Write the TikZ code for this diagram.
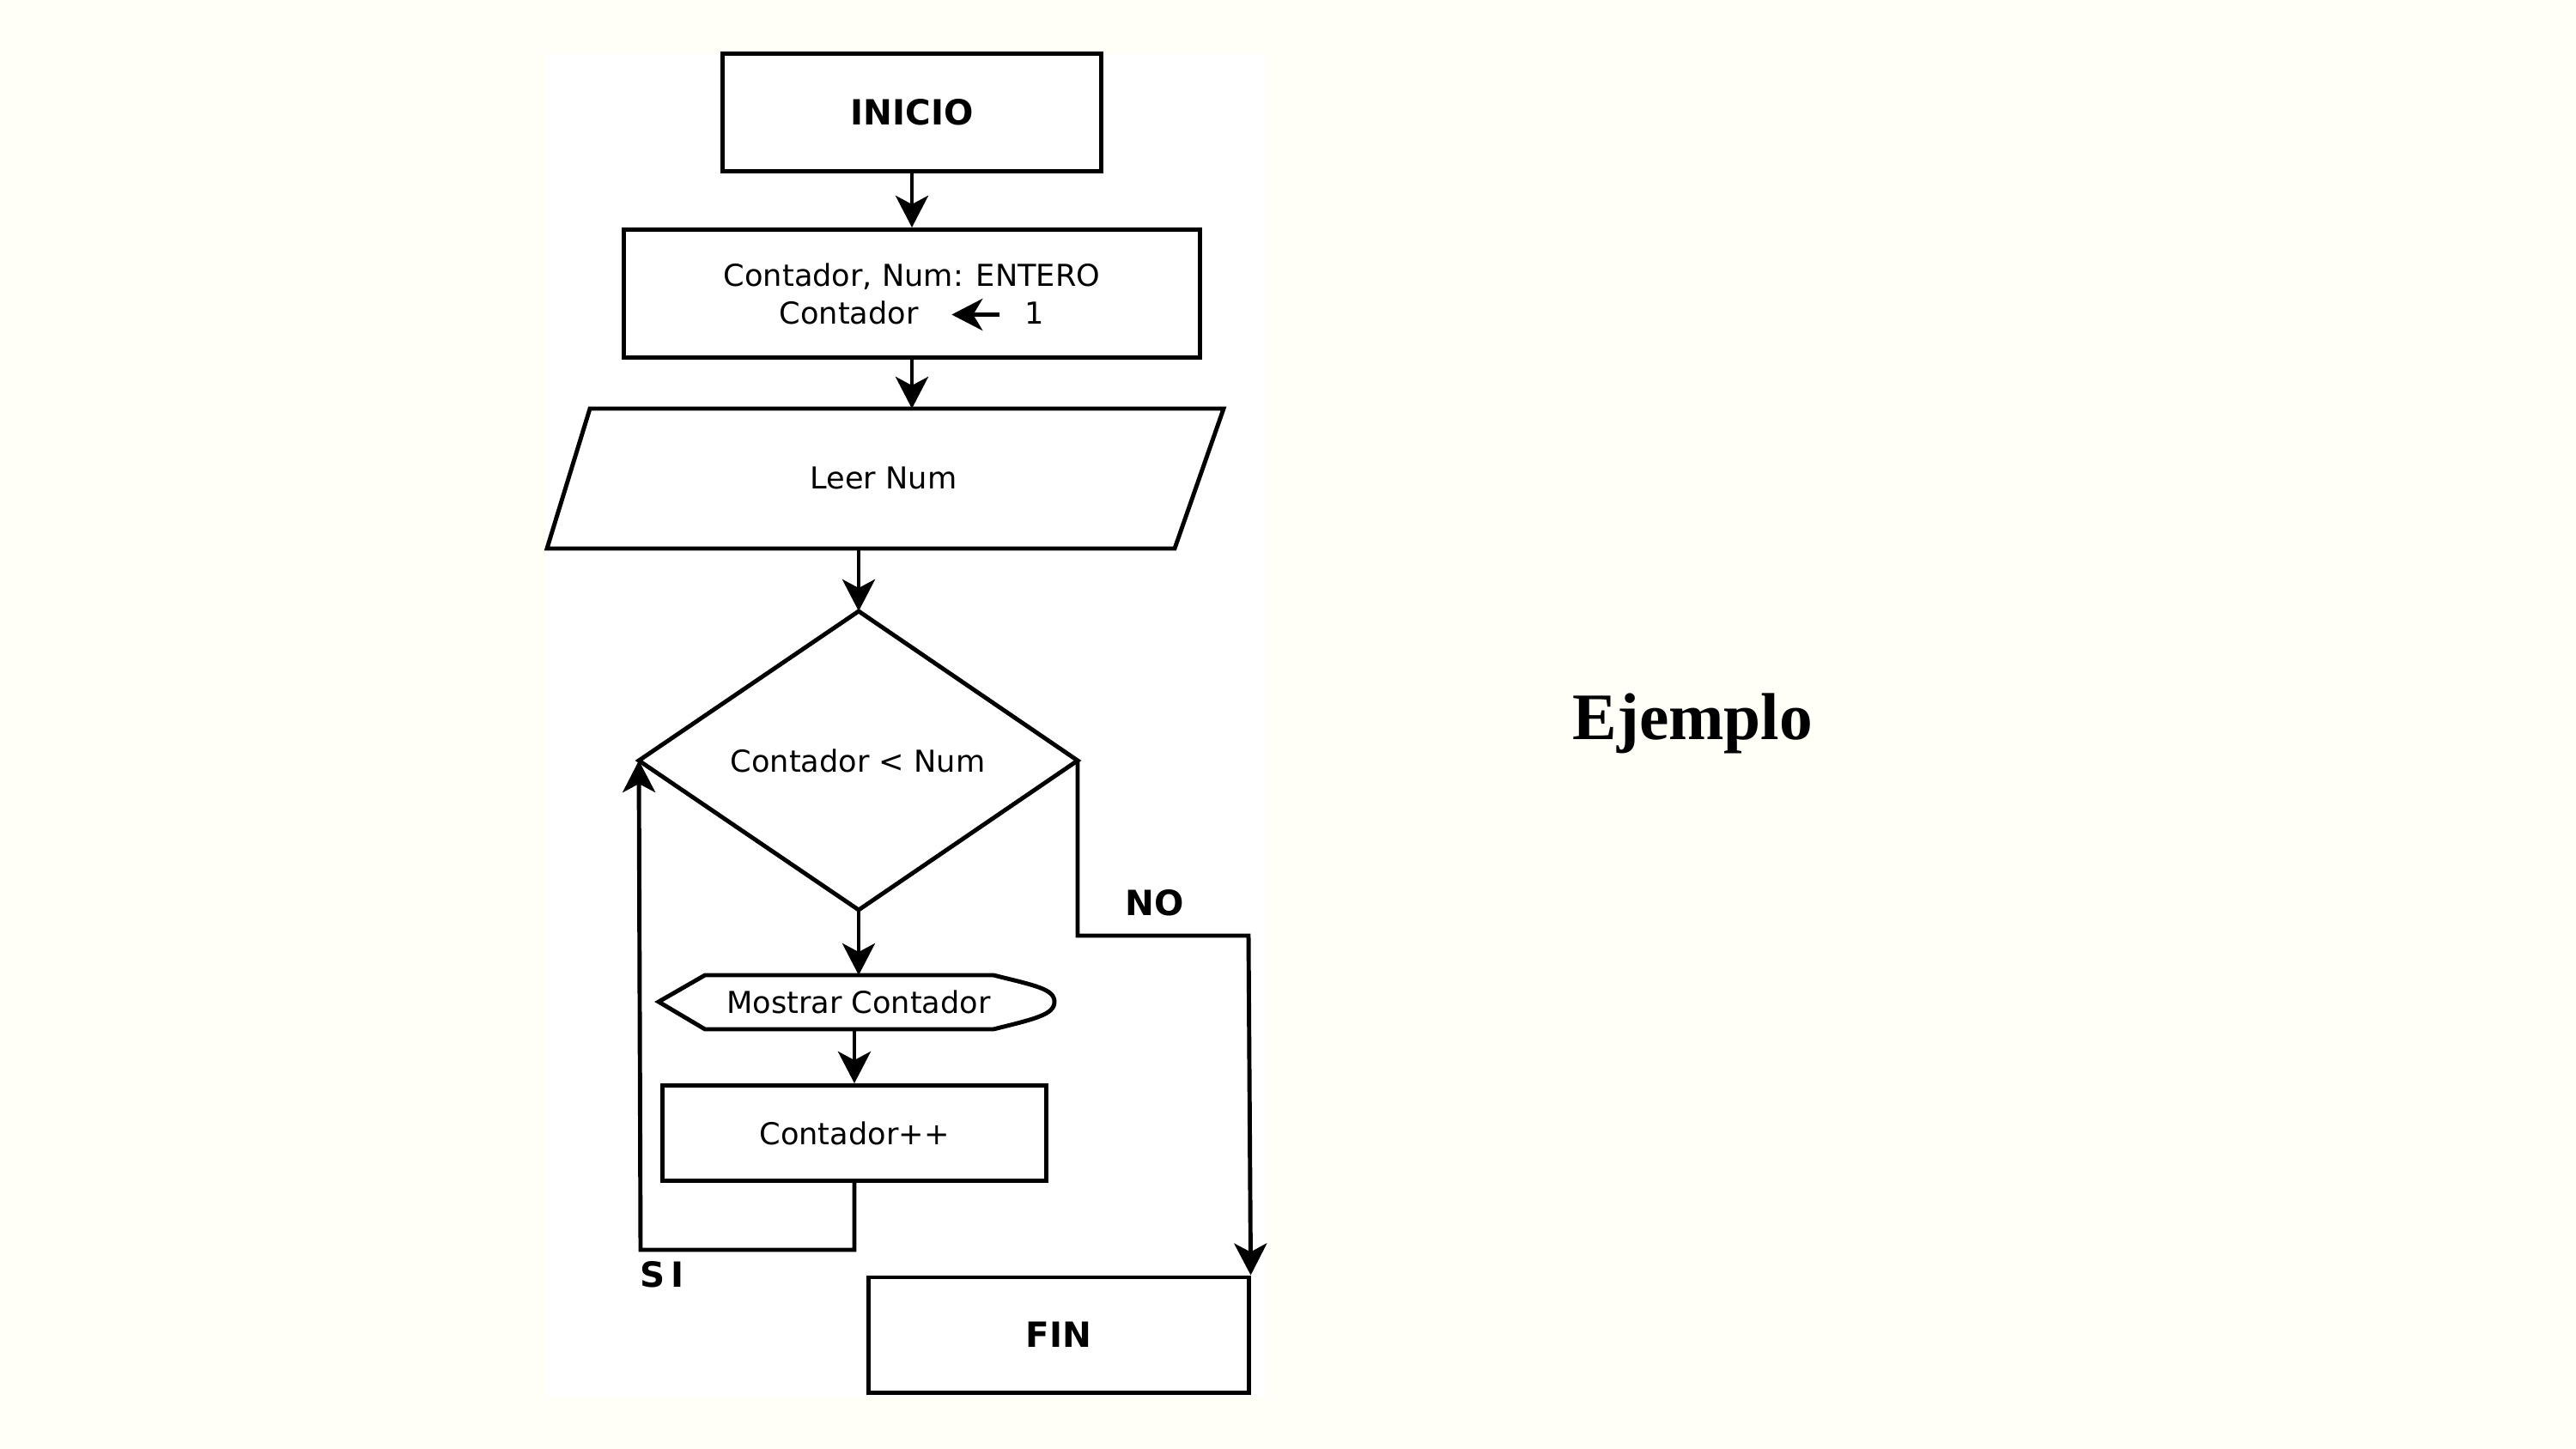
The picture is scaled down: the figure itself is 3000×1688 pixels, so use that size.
\documentclass[tikz,border=0pt]{standalone}
\usepackage{fontspec}
\setmainfont{DejaVu Sans}
\newfontfamily\titlefont{Liberation Serif}
\usetikzlibrary{arrows.meta}
\definecolor{bgcol}{RGB}{255,255,248}
\begin{document}
\begin{tikzpicture}[x=0.01cm,y=-0.01cm,
  shapeline/.style={draw=black, line width=1.4pt, fill=white},
  boxnode/.style={shapeline, inner sep=0pt, align=center, font=\fontsize{10}{12.5}\selectfont},
  plaintext/.style={inner sep=0pt, font=\fontsize{10}{12}\selectfont},
  boldlabel/.style={inner sep=0pt, font=\bfseries\fontsize{11.5}{13}\selectfont},
  arr/.style={-{Stealth[length=0.37cm,width=0.38cm,inset=0.1cm]}, line width=1.4pt},
  conn/.style={line width=1.4pt}
]
\useasboundingbox (0,0) rectangle (3000,1688);
\fill[bgcol] (0,0) rectangle (3000,1688);
\fill[white] (635,63) rectangle (1473,1628);

% start
\node[boxnode, minimum width=4.4cm, minimum height=1.36cm, font=\bfseries\fontsize{11.5}{13}\selectfont] (inicio) at (1062,131) {INICIO};

% declaration
\node[boxnode, minimum width=6.71cm, minimum height=1.49cm] (decl) at (1062,342)
 {Contador, Num: ENTERO\\
  Contador\hspace{0.36cm}\smash{\tikz[baseline=-0.55ex]\draw[-{Stealth[length=0.36cm,width=0.37cm,inset=0.11cm]},line width=1.4pt] (0.56cm,0cm) -- (0cm,0cm);}\hspace{0.27cm}1};

% input parallelogram
\draw[shapeline] (687,476) -- (1425,476) -- (1368,639) -- (637,639) -- cycle;
\node[plaintext] (leer) at (1029,557) {Leer Num};
\coordinate (leerTop) at (1062,476);
\coordinate (leerBot) at (1000,639);

% decision diamond
\draw[shapeline] (1000,712) -- (1255,886) -- (1000,1060) -- (744,886) -- cycle;
\node[plaintext] (cond) at (999,886) {Contador < Num};
\coordinate (diaTop) at (1000,712);
\coordinate (diaBot) at (1000,1060);
\coordinate (diaLeft) at (744,886);
\coordinate (diaRight) at (1255,886);

% display shape
\draw[shapeline] (767,1167) -- (821,1136) -- (1157,1136)
  .. controls (1205,1148) and (1228,1152) .. (1228,1167)
  .. controls (1228,1182) and (1205,1187) .. (1157,1199)
  -- (821,1199) -- cycle;
\node[plaintext] (disp) at (1000,1167) {Mostrar Contador};
\coordinate (dispTop) at (1000,1136);
\coordinate (dispBot) at (995,1199);

% increment
\node[boxnode, minimum width=4.46cm, minimum height=1.11cm] (incr) at (995,1320) {Contador++};

% end
\node[boxnode, minimum width=4.42cm, minimum height=1.34cm, font=\bfseries\fontsize{11.5}{13}\selectfont] (fin) at (1233,1555) {FIN};

% connectors
\draw[arr] (inicio.south) -- (decl.north);
\draw[arr] (decl.south) -- (leerTop);
\draw[arr] (leerBot) -- (diaTop);
\draw[arr] (diaBot) -- (dispTop);
\draw[arr] (dispBot) -- (incr.north);
\coordinate (loopB) at (746,1456);
\draw[arr] (incr.south) |- (loopB) -- (diaLeft);
\coordinate (noB) at (1454,1090);
\draw[arr] (diaRight) |- (noB) -- (fin.north east);

% labels
\node[boldlabel] (nolab) at (1345,1052) {NO};
\node[boldlabel] (silab) at (771,1485) {S\,I};

% title
\node[anchor=base west, inner sep=0pt, font=\titlefont\bfseries\fontsize{22}{26}\selectfont] (title) at (1831,861) {Ejemplo};
\end{tikzpicture}
\end{document}
